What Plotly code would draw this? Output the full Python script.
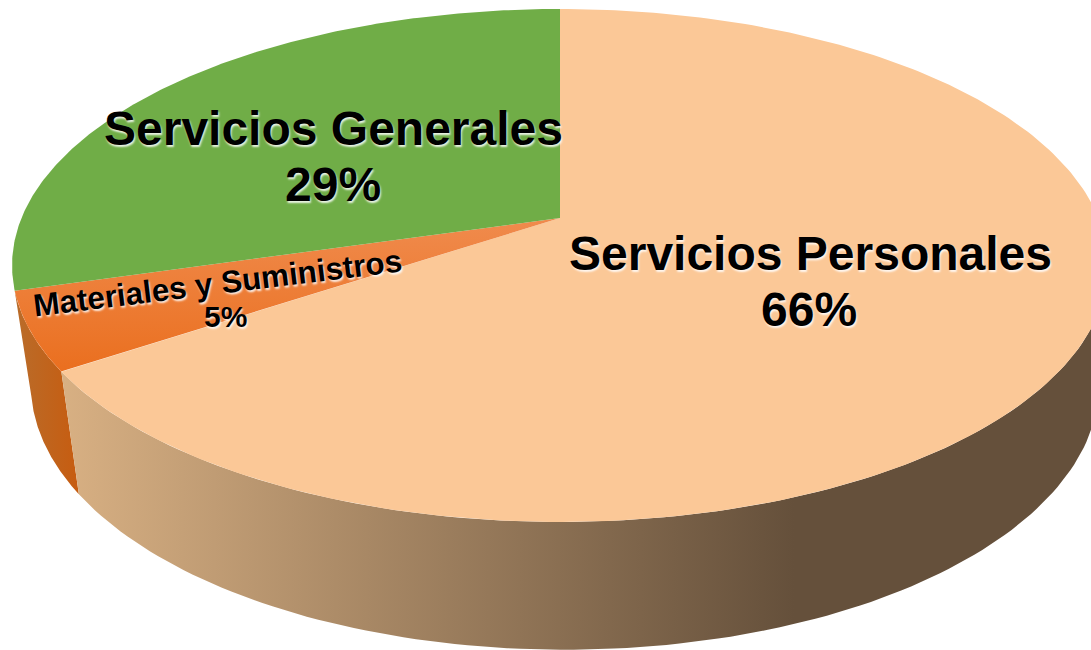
import numpy as np
import plotly.graph_objects as go

categories = ["Servicios Personales", "Materiales y Suministros", "Servicios Generales"]
shares = [65.6, 4.91, 29.49]
top_colors = ["#FBC897", None, "#70AD47"]
label_sizes = [48, 31.5, 48]
pct_sizes = [48, 30, 48]
label_angles = [0, -7, 0]
name_spots = [(810, 253), (217, 283), (333, 128)]
pct_spots = [(809, 309), (225, 316), (333, 184)]

WIDTH, HEIGHT = 1091, 650
TILT = 0.185  # how strongly the far side of the disc shrinks
GLOW = "1px 2px 2px rgba(255,255,255,0.85)"


def disc(theta, cx, cy, a, b):
    # theta in degrees, clockwise from 12 o'clock
    t = np.radians(theta)
    w = 1 + TILT * np.cos(t)
    return cx + a * np.sin(t) / w, cy - b * np.cos(t) / w


def top(theta):
    return disc(theta, 560, 218, 538.5, 247.7)


def under(theta):
    return disc(theta, 565, 335, 525, 256.5)


def wall(start, stop, under_stop=None):
    th = np.linspace(start, stop, 120)
    x1, y1 = top(th)
    x2, y2 = under(np.linspace(start, under_stop or stop, 120))
    return np.r_[x1, x2[::-1], x1[0]], np.r_[y1, y2[::-1], y1[0]]


def wedge(start, stop):
    x, y = top(np.linspace(start, stop, 240))
    return np.r_[560, x, 560], np.r_[218, y, 218]


edges = np.cumsum([0] + shares) * 3.6

fig = go.Figure()

# side walls first so the top faces sit over them
x, y = wall(edges[1], edges[2], edges[2] + 3)
fig.add_trace(go.Scatter(
    x=x, y=y, mode="lines", line_width=0, fill="toself",
    fillgradient=dict(type="horizontal", colorscale=[[0, "#B96C2A"], [1, "#C75C10"]]),
))
x, y = wall(95, edges[1])
fig.add_trace(go.Scatter(
    x=x, y=y, mode="lines", line_width=0, fill="toself",
    fillgradient=dict(type="horizontal", colorscale=[
        [0, "#D8B083"], [0.7, "#65503B"], [1, "#65503B"],
    ]),
))

x, y = wedge(edges[0], edges[1])
fig.add_trace(go.Scatter(x=x, y=y, mode="lines", line_width=0, fill="toself", fillcolor=top_colors[0]))
x, y = wedge(edges[1], edges[2])
fig.add_trace(go.Scatter(
    x=x, y=y, mode="lines", line_width=0, fill="toself",
    fillgradient=dict(type="vertical", colorscale=[[0, "#EA6F1F"], [1, "#F08B4D"]]),
))
x, y = wedge(edges[2], edges[3])
fig.add_trace(go.Scatter(x=x, y=y, mode="lines", line_width=0, fill="toself", fillcolor=top_colors[2]))

for i, name in enumerate(categories):
    fig.add_annotation(
        x=name_spots[i][0], y=name_spots[i][1], text=f"<b>{name}</b>", showarrow=False,
        textangle=label_angles[i],
        font=dict(family="Liberation Sans", size=label_sizes[i], color="black", shadow=GLOW),
    )
    fig.add_annotation(
        x=pct_spots[i][0], y=pct_spots[i][1], text=f"<b>{shares[i]:.0f}%</b>", showarrow=False,
        font=dict(family="Liberation Sans", size=pct_sizes[i], color="black", shadow=GLOW),
    )

fig.update_xaxes(range=[0, WIDTH], visible=False, fixedrange=True)
fig.update_yaxes(range=[HEIGHT, 0], visible=False, fixedrange=True)
fig.update_layout(
    width=WIDTH, height=HEIGHT, margin=dict(l=0, r=0, t=0, b=0),
    paper_bgcolor="white", plot_bgcolor="white", showlegend=False, hovermode=False,
)
fig.write_html("out.html", config={"displayModeBar": False},
               post_script="document.body.style.margin = '0';")
